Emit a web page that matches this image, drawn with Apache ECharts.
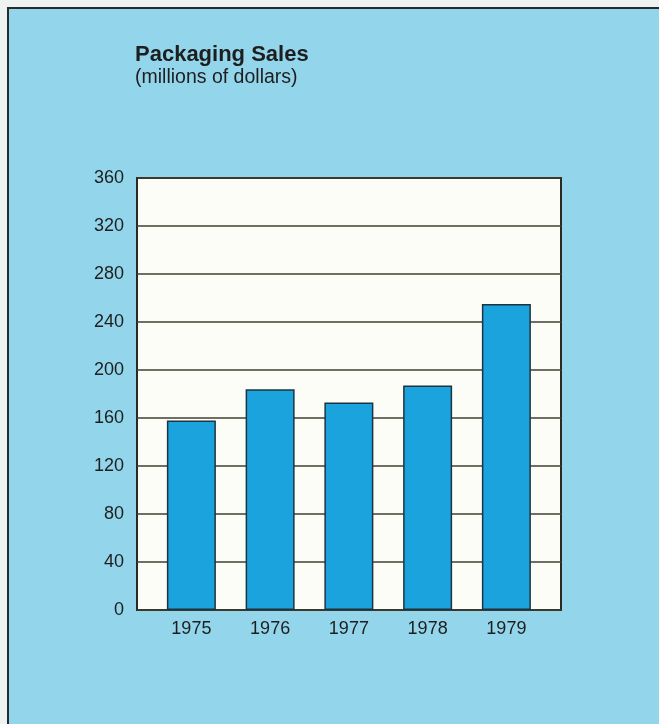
<!DOCTYPE html>
<html>
<head>
<meta charset="utf-8">
<script src="https://cdn.jsdelivr.net/npm/echarts@6/dist/echarts.min.js"></script>
<style>
html,body{margin:0;padding:0;background:#eef2f0;}
#chart{width:659px;height:724px;}
</style>
</head>
<body>
<div id="chart"></div>
<script>
var titleText = 'Packaging Sales';
var subtitleText = '(millions of dollars)';
var categories = ['1975', '1976', '1977', '1978', '1979'];
var salesValues = [158, 184, 173, 187, 255];
var yMin = 0, yMax = 360, yStep = 40;

var chart = echarts.init(document.getElementById('chart'));
var font = '"Liberation Sans", Arial, Helvetica, sans-serif';
chart.setOption({
  backgroundColor: '#eef2f0',
  animation: false,
  graphic: [
    {type: 'rect', left: 7, top: 7, shape: {width: 652, height: 717}, style: {fill: '#93d5eb'}, z: -10},
    {type: 'line', shape: {x1: 7, y1: 8, x2: 659, y2: 8}, style: {stroke: '#2a2a2a', lineWidth: 2}, z: -9},
    {type: 'line', shape: {x1: 8, y1: 7, x2: 8, y2: 724}, style: {stroke: '#2a2a2a', lineWidth: 2}, z: -9}
  ],
  title: [
    {text: titleText, left: 130, top: 39, textStyle: {fontFamily: font, fontSize: 22, fontWeight: 'bold', color: '#1e1e1e'}},
    {text: subtitleText, left: 130, top: 63, textStyle: {fontFamily: font, fontSize: 19.5, fontWeight: 'normal', color: '#1e1e1e'}}
  ],
  grid: [
    {left: 137, top: 178, width: 424, height: 432, show: true, backgroundColor: '#fdfdf8', borderColor: '#2a2a22', borderWidth: 2, z: 0},
    {left: 152, top: 178, width: 393.75, height: 432, show: false}
  ],
  xAxis: [
    {gridIndex: 0, type: 'value', min: 0, max: 1, show: false},
    {gridIndex: 1, type: 'category', data: categories,
     axisLine: {show: false}, axisTick: {show: false},
     axisLabel: {margin: 10, fontFamily: font, fontSize: 18, color: '#1e1e1e'}}
  ],
  yAxis: [
    {gridIndex: 0, type: 'value', min: yMin, max: yMax, interval: yStep,
     axisLine: {show: false}, axisTick: {show: false},
     axisLabel: {margin: 13, fontFamily: font, fontSize: 18, color: '#1e1e1e'},
     splitLine: {show: true, lineStyle: {color: '#3f3f32', width: 1.6}}},
    {gridIndex: 1, type: 'value', min: yMin, max: yMax, show: false, splitLine: {show: false}}
  ],
  series: [{
    type: 'bar', xAxisIndex: 1, yAxisIndex: 1, data: salesValues,
    barWidth: 49,
    itemStyle: {color: '#1ba3dd', borderColor: '#1d3440', borderWidth: 1.5},
    z: 5
  }]
});
</script>
</body>
</html>
